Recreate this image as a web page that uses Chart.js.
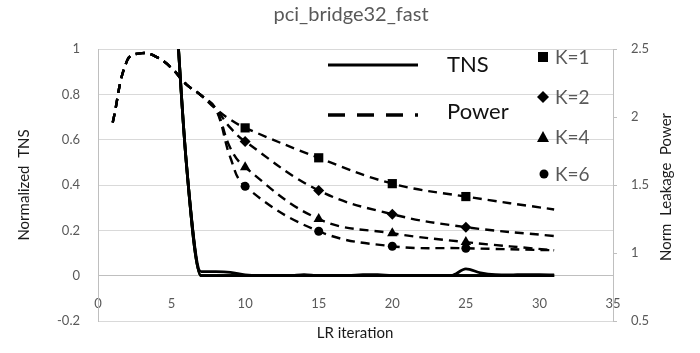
<!DOCTYPE html>
<html>
<head>
<meta charset="utf-8">
<script src="https://cdn.jsdelivr.net/npm/chart.js@4/dist/chart.umd.min.js"></script>
<style>
  html, body { margin: 0; padding: 0; background: #fff; }
  #wrap { width: 700px; height: 353px; }
</style>
</head>
<body>
<div id="wrap"><canvas id="c"></canvas></div>
<script>
// LR iterations for the TNS curves (all K start together, off the top before 5)
const tnsIter = [5, 6, 7, 8, 9, 10, 11, 12, 13, 14, 15, 16, 17, 18, 19, 20, 21, 22, 23, 24, 25, 26, 27, 28, 29, 30, 31];
const tnsK1 = [1.5, 0.5, 0.018, 0.018, 0.015, 0.003, 0, 0, 0, 0, 0, 0, 0, 0, 0, 0, 0, 0, 0, 0, 0, 0, 0, 0, 0, 0, 0];
const tnsK2 = [1.5, 0.5, 0, 0, 0, 0, 0, 0, 0, 0.005, 0, 0, 0, 0.004, 0.004, 0, 0, 0, 0, 0, 0, 0, 0, 0, 0, 0, 0];
const tnsK4 = [1.5, 0.5, 0, 0, 0, 0, 0, 0, 0, 0, 0, 0, 0, 0, 0, 0, 0, 0, 0, 0, 0.03, 0.012, 0.004, 0.003, 0.005, 0.005, 0.003];
const tnsK6 = [1.5, 0.5, 0, 0, 0, 0, 0, 0, 0, 0, 0, 0, 0, 0, 0, 0, 0, 0, 0, 0, 0, 0, 0, 0, 0, 0, 0];

// leakage power, normalised
const powerIter = [1, 2, 3, 4, 5, 6, 7, 8, 9, 10, 15, 20, 25, 31];
const powerK1 = [1.96, 2.42, 2.47, 2.44, 2.36, 2.24, 2.16, 2.06, 1.98, 1.92, 1.70, 1.51, 1.415, 1.32];
const powerK2 = [1.96, 2.42, 2.47, 2.44, 2.36, 2.24, 2.16, 2.06, 1.92, 1.82, 1.46, 1.285, 1.19, 1.125];
const powerK4 = [1.96, 2.42, 2.47, 2.44, 2.36, 2.24, 2.16, 2.06, 1.77, 1.63, 1.25, 1.145, 1.08, 1.02];
const powerK6 = [1.96, 2.42, 2.47, 2.44, 2.36, 2.24, 2.16, 2.06, 1.70, 1.49, 1.16, 1.05, 1.035, 1.02];

// iterations where the K markers are shown
const markerIter = [10, 15, 20, 25];

const kLabels = ['K=1', 'K=2', 'K=4', 'K=6'];
const kStyles = ['rect', 'rectRot', 'triangle', 'circle'];
const kRadius = [6.5, 5.5, 6, 4.5];

const xTicks = [0, 5, 10, 15, 20, 25, 30, 35];

Chart.defaults.font.family = 'Lato, "Liberation Sans", sans-serif';

const toXY = (xs, ys) => xs.map((x, i) => ({ x: x, y: ys[i] }));
// 1, 0.8, 0, -0.2 ... like Excel, no trailing zeros
const fmt = v => String(Number(Number(v).toFixed(1)));

function tnsSet(vals, color) {
  return {
    data: toXY(tnsIter, vals),
    yAxisID: 'y',
    borderColor: color,
    borderWidth: 2.8,
    pointRadius: 0,
    cubicInterpolationMode: 'monotone',
    fill: false
  };
}

function powerSet(vals, k) {
  return {
    data: toXY(powerIter, vals),
    yAxisID: 'y2',
    borderColor: '#000',
    backgroundColor: '#000',
    borderWidth: 2.4,
    borderDash: [9, 6],
    tension: 0.4,
    pointStyle: kStyles[k],
    pointRadius: ctx => markerIter.includes(ctx.raw && ctx.raw.x) ? kRadius[k] : 0,
    pointBorderWidth: 0,
    pointBackgroundColor: '#000',
    fill: false
  };
}

// titles, axis names and the hand-made legend
const textPlugin = {
  id: 'textPlugin',
  afterDraw(chart) {
    const ctx = chart.ctx;
    const ff = Chart.defaults.font.family;
    ctx.save();
    ctx.textBaseline = 'middle';

    ctx.fillStyle = '#595959';
    ctx.font = '20px ' + ff;
    ctx.textAlign = 'center';
    ctx.fillText('pci_bridge32_fast', 351, 15);

    ctx.fillStyle = '#1a1a1a';
    ctx.font = '15px ' + ff;
    ctx.fillText('LR iteration', 355, 333);

    ctx.save();
    ctx.translate(24, 185);
    ctx.rotate(-Math.PI / 2);
    ctx.fillText('Normalized  TNS', 0, 0);
    ctx.restore();

    ctx.save();
    ctx.translate(666, 187);
    ctx.rotate(-Math.PI / 2);
    ctx.fillText('Norm  Leakage  Power', 0, 0);
    ctx.restore();

    // line legend
    ctx.strokeStyle = '#000';
    ctx.lineWidth = 3;
    ctx.beginPath();
    ctx.moveTo(328, 65); ctx.lineTo(418, 65);
    ctx.stroke();
    ctx.setLineDash([17, 12]);
    ctx.lineWidth = 3.5;
    ctx.beginPath();
    ctx.moveTo(328, 115); ctx.lineTo(418, 115);
    ctx.stroke();
    ctx.setLineDash([]);

    ctx.fillStyle = '#111';
    ctx.font = '22px ' + ff;
    ctx.textAlign = 'left';
    ctx.fillText('TNS', 447, 65);
    ctx.fillText('Power', 447, 112);

    // marker legend
    const ys = [57, 97, 137, 174];
    ctx.font = '19px ' + ff;
    kLabels.forEach((lab, i) => {
      const y = ys[i], x = 543;
      ctx.fillStyle = '#000';
      ctx.beginPath();
      if (i === 0) ctx.rect(x - 5, y - 5, 10, 10);
      if (i === 1) { ctx.moveTo(x, y - 6); ctx.lineTo(x + 6, y); ctx.lineTo(x, y + 6); ctx.lineTo(x - 6, y); ctx.closePath(); }
      if (i === 2) { ctx.moveTo(x, y - 6); ctx.lineTo(x + 6, y + 5); ctx.lineTo(x - 6, y + 5); ctx.closePath(); }
      if (i === 3) ctx.arc(x + 1, y, 4.5, 0, Math.PI * 2);
      ctx.fill();
      ctx.fillStyle = '#595959';
      ctx.fillText(lab, 555, y + 1);
    });
    ctx.restore();
  }
};

new Chart(document.getElementById('c'), {
  type: 'line',
  data: {
    datasets: [
      powerSet(powerK1, 0),
      powerSet(powerK2, 1),
      powerSet(powerK4, 2),
      powerSet(powerK6, 3),
      tnsSet(tnsK1, '#000'),
      tnsSet(tnsK2, '#000'),
      tnsSet(tnsK4, '#000'),
      tnsSet(tnsK6, '#70ad47')
    ]
  },
  options: {
    responsive: true,
    maintainAspectRatio: false,
    animation: false,
    layout: { padding: { top: 49, bottom: 32, left: 0, right: 0 } },
    plugins: {
      legend: { display: false },
      title: { display: false },
      tooltip: { enabled: false }
    },
    scales: {
      x: {
        type: 'linear',
        min: 0,
        max: 35,
        position: { y: 0 },
        afterBuildTicks: s => { s.ticks = xTicks.map(v => ({ value: v })); },
        grid: { display: false, drawTicks: false },
        border: { display: true, color: '#bfbfbf', width: 1 },
        ticks: { color: '#595959', font: { size: 13 }, padding: 20 }
      },
      y: {
        position: 'left',
        min: -0.2,
        max: 1,
        afterFit: s => { s.width = 98; },
        ticks: { stepSize: 0.2, color: '#595959', font: { size: 13 }, padding: 18, callback: fmt },
        grid: { color: '#d9d9d9', drawTicks: false },
        border: { color: '#bfbfbf' }
      },
      y2: {
        position: 'right',
        min: 0.5,
        max: 2.5,
        afterFit: s => { s.width = 87; },
        ticks: { stepSize: 0.5, color: '#595959', font: { size: 13 }, padding: 14, callback: fmt },
        grid: { drawOnChartArea: false, tickLength: 4, color: '#bfbfbf' },
        border: { color: '#bfbfbf' }
      }
    }
  },
  plugins: [textPlugin]
});
</script>
</body>
</html>
